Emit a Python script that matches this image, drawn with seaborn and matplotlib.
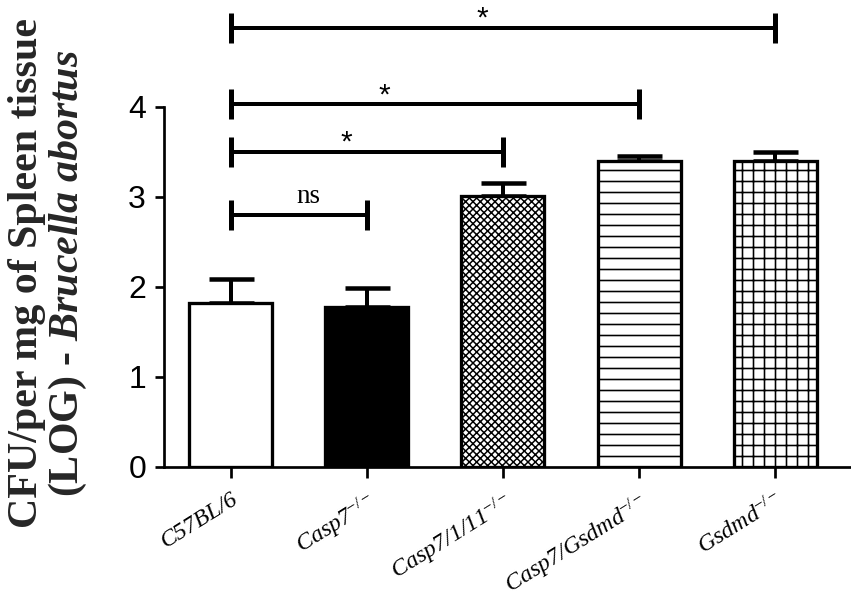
import matplotlib
matplotlib.use("Agg")
import matplotlib.pyplot as plt
import matplotlib.transforms as mtrans
import seaborn as sns
import pandas as pd

# ---------------- data ----------------
groups = ["C57BL/6", "Casp7", "Casp7/1/11", "Casp7/Gsdmd", "Gsdmd"]
tick_labels = ["C57BL/6", r"Casp7$^{-/-}$", r"Casp7/1/11$^{-/-}$",
               r"Casp7/Gsdmd$^{-/-}$", r"Gsdmd$^{-/-}$"]
means = [1.82, 1.78, 3.01, 3.40, 3.40]
sem = [0.27, 0.21, 0.15, 0.06, 0.10]
face_colors = ["white", "black", "white", "white", "white"]
hatches = ["", "", "xxx", "-", "+"]
comparisons = [(0, 1, "ns"), (0, 2, "*"), (0, 3, "*"), (0, 4, "*")]
bracket_y = [2.80, 3.50, 4.03, 4.88]
label_x = [0.57, 0.85, 1.125, 1.85]
y_ticks = [0, 1, 2, 3, 4]

DPI = 66


def px(v):
    return v * 72.0 / DPI


sns.set_theme(style="ticks")
plt.rcParams.update({
    "font.family": ["Liberation Sans", "DejaVu Sans"],
    "mathtext.fontset": "custom",
    "mathtext.rm": "Liberation Serif",
    "mathtext.it": "Liberation Serif:italic",
    "mathtext.bf": "Liberation Serif:bold",
    "hatch.linewidth": px(1.6),
    "hatch.color": "black",
    "axes.linewidth": px(2.7),
})
try:
    plt.rcParams["mathtext.bfit"] = "Liberation Serif:italic:bold"
except KeyError:
    pass

fig = plt.figure(figsize=(851 / DPI, 602 / DPI), dpi=DPI)
ax = fig.add_axes([164 / 851, 135 / 602, 686 / 851, 360 / 602])

df = pd.DataFrame({"group": groups, "cfu": means})
sns.barplot(data=df, x="group", y="cfu", hue="group", order=groups,
            hue_order=groups, palette=face_colors, saturation=1,
            edgecolor="black", linewidth=px(3.3), width=0.61,
            errorbar=None, legend=False, ax=ax, zorder=3)
for patch, h in zip(ax.patches, hatches):
    patch.set_hatch(h)
    if h == "xxx" and hasattr(patch, "set_hatch_linewidth"):
        patch.set_hatch_linewidth(px(1.5))

ax.errorbar(x=list(range(len(groups))), y=means,
            yerr=[[0] * len(sem), sem], fmt="none", ecolor="black",
            elinewidth=px(4), capsize=px(22.5), capthick=px(4.5), zorder=2)

# significance brackets
cap = 15 / 90.0
for (i, j, lab), yb, lx in zip(comparisons, bracket_y, label_x):
    ax.plot([i, j], [yb, yb], color="black", lw=px(4), clip_on=False,
            solid_capstyle="butt", zorder=4)
    for xe in (i, j):
        ax.plot([xe, xe], [yb - cap, yb + cap], color="black", lw=px(5),
                clip_on=False, solid_capstyle="butt", zorder=4)
    if lab == "ns":
        ax.text(lx, yb + 12 / 90.0, lab, ha="center", va="baseline",
                fontsize=px(27), family="Liberation Serif", color="black")
    else:
        ax.text(lx, yb + 1 / 90.0, lab, ha="center", va="baseline",
                fontsize=px(30), family="Liberation Sans", color="black")

ax.set_xlim(-0.49, 4.55)
ax.set_ylim(0, 4)
ax.set_yticks(y_ticks)
ax.set_yticklabels([str(t) for t in y_ticks], fontsize=px(32),
                   family="Liberation Sans")
ax.set_xticks(range(len(groups)))
ax.set_xticklabels(tick_labels, rotation=32, ha="right",
                   rotation_mode="anchor", fontsize=px(24),
                   family="Liberation Serif", style="italic")
offset = mtrans.ScaledTranslation(10 / DPI, 0, fig.dpi_scale_trans)
for lbl in ax.get_xticklabels():
    lbl.set_transform(lbl.get_transform() + offset)
    lbl.set_va("top")

ax.tick_params(axis="y", direction="out", length=px(9), width=px(2.7),
               pad=px(9), colors="black")
ax.tick_params(axis="x", direction="out", length=px(11), width=px(2.7),
               pad=px(11), colors="black")
ax.set_xlabel("")
ax.set_ylabel("")
sns.despine(ax=ax)
ax.spines["left"].set_bounds(0, 4)
ax.spines["left"].set_color("black")
ax.spines["bottom"].set_color("black")

fig.text(0.057, 0.546,
         "CFU/per mg of Spleen tissue\n(LOG) - $\\mathbfit{Brucella\\ abortus}$",
         rotation=90, ha="center", va="center", multialignment="center",
         fontsize=px(42), fontweight="bold", family="Liberation Serif",
         linespacing=1.0)

fig.savefig("out.png", dpi=DPI, facecolor="white")
